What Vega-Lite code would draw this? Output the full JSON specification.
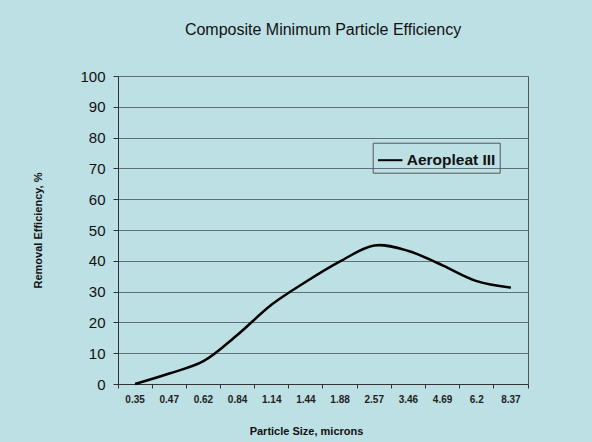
{
  "$schema": "https://vega.github.io/schema/vega-lite/v6.json",
  "width": 410,
  "height": 308,
  "autosize": "none",
  "padding": {"left": 118, "top": 76, "right": 64, "bottom": 58},
  "background": "#BDE0E4",
  "title": {
    "text": "Composite Minimum Particle Efficiency",
    "font": "Liberation Sans",
    "fontSize": 16,
    "fontWeight": "normal",
    "color": "#111111",
    "offset": 31,
    "anchor": "middle"
  },
  "config": {
    "view": {"stroke": "#555555", "strokeWidth": 1},
    "axis": {"labelFont": "Liberation Sans", "titleFont": "Liberation Sans"}
  },
  "data": {
    "values": [
      {"size": "0.35", "eff": 0, "series": "Aeropleat III"},
      {"size": "0.47", "eff": 3.4, "series": "Aeropleat III"},
      {"size": "0.62", "eff": 7.4, "series": "Aeropleat III"},
      {"size": "0.84", "eff": 16, "series": "Aeropleat III"},
      {"size": "1.14", "eff": 25.8, "series": "Aeropleat III"},
      {"size": "1.44", "eff": 33.2, "series": "Aeropleat III"},
      {"size": "1.88", "eff": 39.8, "series": "Aeropleat III"},
      {"size": "2.57", "eff": 45, "series": "Aeropleat III"},
      {"size": "3.46", "eff": 43.2, "series": "Aeropleat III"},
      {"size": "4.69", "eff": 38.5, "series": "Aeropleat III"},
      {"size": "6.2", "eff": 33.4, "series": "Aeropleat III"},
      {"size": "8.37", "eff": 31.3, "series": "Aeropleat III"}
    ]
  },
  "mark": {"type": "line", "strokeWidth": 2.5, "interpolate": "catmull-rom"},
  "encoding": {
    "x": {
      "field": "size",
      "type": "nominal",
      "sort": null,
      "scale": {"type": "band", "paddingInner": 0, "paddingOuter": 0},
      "axis": {
        "title": "Particle Size, microns",
        "titleFontSize": 11,
        "titleFontWeight": "bold",
        "titleColor": "#111111",
        "titleX": 188,
        "titlePadding": 21,
        "labelAngle": 0,
        "labelFontSize": 10,
        "labelFontWeight": "bold",
        "labelColor": "#222222",
        "labelPadding": 6,
        "bandPosition": 1,
        "tickExtra": true,
        "labelOffset": 0,
        "tickSize": 4,
        "tickColor": "#333333",
        "domainColor": "#333333",
        "grid": false
      }
    },
    "y": {
      "field": "eff",
      "type": "quantitative",
      "scale": {"domain": [0, 100], "nice": false},
      "axis": {
        "title": "Removal Efficiency, %",
        "titleFontSize": 11,
        "titleFontWeight": "bold",
        "titleColor": "#111111",
        "titlePadding": 36,
        "values": [0, 10, 20, 30, 40, 50, 60, 70, 80, 90, 100],
        "labelFontSize": 15,
        "labelColor": "#111111",
        "labelPadding": 8,
        "tickSize": 5,
        "tickColor": "#333333",
        "domainColor": "#333333",
        "grid": true,
        "gridColor": "#5F7376",
        "gridWidth": 1,
        "gridOpacity": 1
      }
    },
    "color": {
      "field": "series",
      "type": "nominal",
      "scale": {"range": ["#000000"]},
      "legend": {
        "orient": "none",
        "legendX": 254.7,
        "legendY": 66.7,
        "title": null,
        "strokeColor": "#555555",
        "padding": 4,
        "labelFont": "Liberation Sans",
        "labelFontSize": 15.5,
        "labelFontWeight": "bold",
        "labelColor": "#111111",
        "labelOffset": 3,
        "symbolType": "stroke",
        "symbolSize": 600,
        "symbolStrokeWidth": 2
      }
    }
  }
}
